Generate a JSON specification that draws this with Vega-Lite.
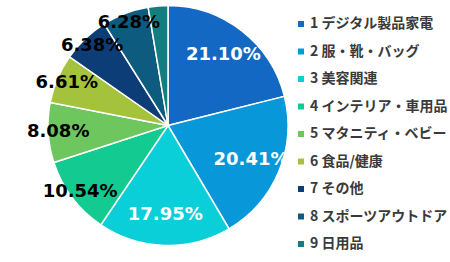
{
  "$schema": "https://vega.github.io/schema/vega-lite/v6.json",
  "width": 336,
  "height": 251,
  "padding": {"left": 0, "top": 0, "right": 114, "bottom": 11},
  "autosize": {"type": "none"},
  "background": "white",
  "config": {"view": {"stroke": null}},
  "data": {
    "values": [
      {"id": 1, "category": "1 デジタル製品家電", "share": 0.2110},
      {"id": 2, "category": "2 服・靴・バッグ", "share": 0.2041},
      {"id": 3, "category": "3 美容関連", "share": 0.1795},
      {"id": 4, "category": "4 インテリア・車用品", "share": 0.1054},
      {"id": 5, "category": "5 マタニティ・ベビー", "share": 0.0808},
      {"id": 6, "category": "6 食品/健康", "share": 0.0661},
      {"id": 7, "category": "7 その他", "share": 0.0638},
      {"id": 8, "category": "8 スポーツアウトドア", "share": 0.0628},
      {"id": 9, "category": "9 日用品", "share": 0.0265}
    ]
  },
  "encoding": {
    "theta": {"field": "share", "type": "quantitative", "stack": true},
    "order": {"field": "id", "type": "quantitative"}
  },
  "layer": [
    {
      "mark": {"type": "arc", "outerRadius": 120, "stroke": "white", "strokeWidth": 1.5},
      "encoding": {
        "color": {
          "field": "category",
          "type": "nominal",
          "sort": {"field": "id"},
          "scale": {
            "domain": ["1 デジタル製品家電", "2 服・靴・バッグ", "3 美容関連", "4 インテリア・車用品", "5 マタニティ・ベビー", "6 食品/健康", "7 その他", "8 スポーツアウトドア", "9 日用品"],
            "range": ["#1368C4", "#0897D9", "#0ACFD9", "#13CA91", "#6DC65E", "#A5C23D", "#0D3D77", "#0E5B80", "#147D80"]
          },
          "legend": {
            "orient": "none",
            "legendX": 294,
            "legendY": 17,
            "title": null,
            "padding": 0,
            "symbolType": "square",
            "symbolSize": 36,
            "symbolStrokeWidth": 0,
            "labelFont": "Noto Sans CJK JP",
            "labelFontSize": 14,
            "labelFontWeight": "bold",
            "labelColor": "#3a3a3a",
            "labelOffset": 2,
            "labelLimit": 200,
            "rowPadding": 13.5
          }
        }
      }
    },
    {
      "mark": {"type": "text", "radius": 90, "font": "DejaVu Sans", "fontWeight": "bold", "fontSize": 18},
      "encoding": {
        "color": {"value": "white"},
        "text": {"condition": {"test": "datum.id <= 3", "field": "share", "type": "quantitative", "format": ".2%"}, "value": ""}
      }
    },
    {
      "mark": {"type": "text", "radius": 110, "font": "DejaVu Sans", "fontWeight": "bold", "fontSize": 18},
      "encoding": {
        "color": {"value": "black"},
        "text": {"condition": {"test": "datum.id > 3 && datum.id < 9", "field": "share", "type": "quantitative", "format": ".2%"}, "value": ""}
      }
    }
  ]
}
